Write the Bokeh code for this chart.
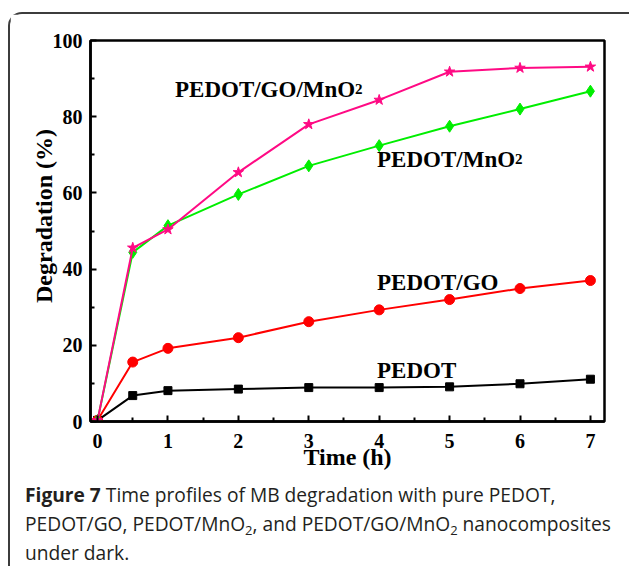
from bokeh.plotting import figure
from bokeh.layouts import column
from bokeh.models import Div, FixedTicker, Range1d, ColumnDataSource
from bokeh.core.properties import value
from bokeh.embed import file_html
from bokeh.resources import INLINE

# Degradation of MB (%) versus time (h)
time_h = [0, 0.5, 1, 2, 3, 4, 5, 6, 7]
pedot = [0.3, 6.8, 8.1, 8.5, 8.9, 8.9, 9.1, 9.9, 11.1]
pedot_go = [0.3, 15.6, 19.2, 22.0, 26.2, 29.3, 32.0, 34.9, 37.0]
pedot_mno2 = [0.3, 44.4, 51.4, 59.6, 67.1, 72.4, 77.5, 82.0, 86.7]
pedot_go_mno2 = [0.3, 45.6, 50.4, 65.4, 78.0, 84.4, 91.8, 92.8, 93.1]

x_ticks = [0, 1, 2, 3, 4, 5, 6, 7]
x_minor = [0.5, 1.5, 2.5, 3.5, 4.5, 5.5, 6.5]
y_ticks = [0, 20, 40, 60, 80, 100]
y_minor = [10, 30, 50, 70, 90]

SERIF = "Liberation Serif"
NBSP = "\u00a0"

p = figure(width=618, height=460, output_backend="svg", toolbar_location=None,
           x_range=Range1d(-0.1, 7.2), y_range=Range1d(0, 100),
           min_border_left=80, min_border_right=24, min_border_top=26,
           min_border_bottom=53)
p.background_fill_color = "white"
p.border_fill_color = "white"
p.grid.visible = False
p.outline_line_color = "black"
p.outline_line_width = 2.5
p.outline_line_alpha = 1

for ax in (p.xaxis[0], p.yaxis[0]):
    ax.axis_line_width = 2.5
    ax.major_tick_in = 6
    ax.major_tick_out = 0
    ax.minor_tick_in = 4
    ax.minor_tick_out = 0
    ax.major_tick_line_width = 2
    ax.minor_tick_line_width = 2
    ax.major_label_text_font = SERIF
    ax.major_label_text_font_style = "bold"
    ax.major_label_text_font_size = "20px"
    ax.major_label_text_color = "black"
    ax.axis_label_text_font = SERIF
    ax.axis_label_text_font_style = "bold"
    ax.axis_label_text_font_size = "24px"
    ax.axis_label_text_color = "black"

p.xaxis.ticker = FixedTicker(ticks=x_ticks, minor_ticks=x_minor)
p.yaxis.ticker = FixedTicker(ticks=y_ticks, minor_ticks=y_minor)
p.xaxis.axis_label = "Time (h)"
# leading no-break spaces lift the y title a little above the axis centre
p.yaxis.axis_label = NBSP * 5 + "Degradation (%)"
p.xaxis.major_label_standoff = 12
p.yaxis.major_label_standoff = 8
p.xaxis.axis_label_standoff = -7
p.yaxis.axis_label_standoff = -7

src = ColumnDataSource(dict(t=time_h, a=pedot, b=pedot_go, c=pedot_mno2, d=pedot_go_mno2))

BLACK, RED, GREEN, PINK = "#000000", "#ff0000", "#00ee00", "#ff0a84"

p.line("t", "a", source=src, line_color=BLACK, line_width=2)
p.scatter("t", "a", source=src, marker="square", size=8, fill_color=BLACK, line_color=BLACK)

p.line("t", "b", source=src, line_color=RED, line_width=2)
p.scatter("t", "b", source=src, marker="circle", size=10, fill_color=RED, line_color=RED)

p.line("t", "c", source=src, line_color=GREEN, line_width=2)
p.scatter("t", "c", source=src, marker="diamond", size=12, fill_color=GREEN, line_color=GREEN)

p.line("t", "d", source=src, line_color=PINK, line_width=2)
p.scatter("t", "d", source=src, marker="star", size=11, fill_color=PINK, line_color=PINK)

# Series names written next to their curves
names = ["PEDOT/GO/MnO", "PEDOT/MnO", "PEDOT/GO", "PEDOT"]
name_x = [1.10, 3.97, 3.97, 3.97]
name_y = [87.2, 68.8, 36.5, 13.5]
p.text(x=name_x, y=name_y, text=names, text_font=value(SERIF), text_font_style="bold",
       text_font_size="23px", text_color="black", text_align="left",
       text_baseline="alphabetic")
# small "2" of MnO2
p.text(x=[name_x[0], name_x[1]], y=[name_y[0], name_y[1]], text=["2", "2"],
       x_offset=[180, 138], text_font=value(SERIF), text_font_style="bold",
       text_font_size="15px", text_color="black", text_align="left",
       text_baseline="alphabetic")

SUB = '<span style="font-size:13px;vertical-align:-4px;line-height:0">2</span>'
caption = Div(
    text=("<b>Figure 7</b> Time profiles of MB degradation with pure PEDOT,<br>"
          f"PEDOT/GO, PEDOT/MnO{SUB}, and PEDOT/GO/MnO{SUB} nanocomposites<br>"
          "under dark."),
    width=616, height=92,
    styles={"font-family": "'Open Sans'", "font-size": "19.2px", "line-height": "29px",
            "color": "#231f20", "white-space": "nowrap",
            "padding-left": "10px", "padding-top": "1px", "overflow": "hidden"},
)

layout = column(p, caption, spacing=0,
                styles={"border-left": "2px solid #3c3c3c", "border-top": "2px solid #3c3c3c",
                        "border-top-left-radius": "14px"},
                margin=(12, 0, 0, 8))

open("out.html", "w").write(file_html(layout, INLINE))
